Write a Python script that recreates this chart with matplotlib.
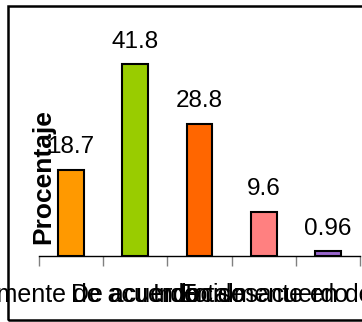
import numpy as np
import matplotlib.pyplot as plt
from matplotlib.patches import Rectangle

categories = ["Totalmente de acuerdo", "De acuerdo", "Indeciso",
              "En desacuerdo", "Totalmente en desacuerdo"]
values = [18.7, 41.8, 28.8, 9.6, 0.96]
labels = ["18.7", "41.8", "28.8", "9.6", "0.96"]
colors = ["#FF9900", "#99CC00", "#FF6600", "#FF8080", "#9966CC"]

plt.rcParams["font.family"] = ["Liberation Sans", "DejaVu Sans"]

fig = plt.figure(figsize=(3.62, 3.22), dpi=100)
ax = fig.add_axes([39 / 362, 1 - 255.7 / 322, 321 / 362, 229 / 322])

x = np.arange(len(values))
ax.bar(x, values, width=0.4, color=colors, edgecolor="black", linewidth=1.5)
for xi, v, t in zip(x, values, labels):
    ax.annotate(t, (xi, v), xytext=(0, 12), textcoords="offset points",
                ha="center", va="baseline", fontsize=17.5)

ax.set_xlim(-0.5, len(values) - 0.5)
ax.set_ylim(0, 50)
ax.set_xticks(np.arange(len(values) + 1) - 0.5)
ax.set_xticklabels([])
ax.set_xticks(x, minor=True)
ax.set_xticklabels(categories, minor=True, fontsize=18)
ax.tick_params(axis="x", which="major", length=7, color="#808080", width=1)
ax.tick_params(axis="x", which="minor", length=0, pad=20)
ax.set_yticks([])
for s in ["top", "right", "left"]:
    ax.spines[s].set_visible(False)
ax.spines["bottom"].set_linewidth(1)

# y label sits inside the plot area, next to the first bar
fig.text(43 / 362, 1 - 177 / 322, "Procentaje", rotation=90, ha="center",
         va="center", fontsize=19, fontweight="bold")

fig.patches.append(Rectangle((8 / 362, 2 / 322), 1.0, 314 / 322,
                             transform=fig.transFigure, fill=False,
                             edgecolor="black", linewidth=1.8))

fig.savefig("out.png", dpi=100)
